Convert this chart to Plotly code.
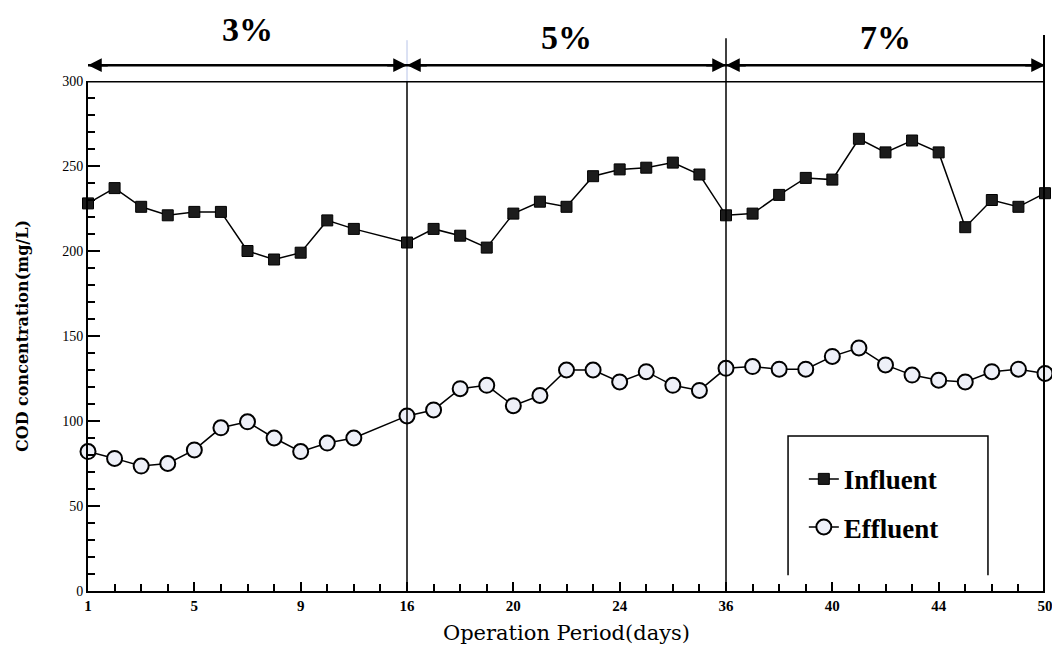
import plotly.graph_objects as go

# Sample positions along the operation period (evenly spaced on the axis)
sample_index = list(range(37))

# COD concentration (mg/L); sample 11 was not measured
influent = [228, 237, 226, 221, 223, 223, 200, 195, 199, 218, 213, None, 205,
            213, 209, 202, 222, 229, 226, 244, 248, 249, 252, 245, 221,
            222, 233, 243, 242, 266, 258, 265, 258, 214, 230, 226, 234]
effluent = [82, 78, 73.5, 75, 83, 96, 99.5, 90, 82, 87, 90, None, 103,
            106.5, 119, 121, 109, 115, 130, 130, 123, 129, 121, 118, 131,
            132, 130.5, 130.5, 138, 143, 133, 127, 124, 123, 129, 130.5, 128]

# Axis tick labels (operation day) at every fourth sample
tick_pos = [0, 4, 8, 12, 16, 20, 24, 28, 32, 36]
tick_text = ["1", "5", "9", "16", "20", "24", "36", "40", "44", "50"]

# Loading phases and their boundaries on the sample axis
phase_labels = ["3%", "5%", "7%"]
phase_bounds = [0, 12, 24, 36]

SERIF = "Liberation Serif"
WIDE_SERIF = "DejaVu Serif"

fig = go.Figure()
fig.add_trace(go.Scatter(
    x=sample_index, y=influent, name="Influent", mode="lines+markers",
    connectgaps=True, cliponaxis=False, legendgroup="inf",
    line=dict(color="black", width=1.5),
    marker=dict(symbol="square", size=11, color="#1c1c1c",
                line=dict(color="black", width=1)),
))
fig.add_trace(go.Scatter(
    x=sample_index, y=effluent, name="Effluent", mode="lines+markers",
    connectgaps=True, cliponaxis=False, legendgroup="eff",
    line=dict(color="black", width=1.5),
    marker=dict(symbol="circle", size=15, color="#eef0f8",
                line=dict(color="black", width=2)),
))

shapes = []
# top frame line at 300 mg/L
shapes.append(dict(type="line", xref="x", yref="y", x0=0, x1=36, y0=300, y1=300,
                   line=dict(color="black", width=3)))
# phase separators
shapes.append(dict(type="line", xref="x", yref="y", x0=12, x1=12, y0=0, y1=300,
                   line=dict(color="black", width=1.5)))
shapes.append(dict(type="line", xref="x", yref="paper", x0=12, x1=12, y0=1, y1=1.08,
                   line=dict(color="#b8c4e8", width=1)))
shapes.append(dict(type="line", xref="x", yref="paper", x0=24, x1=24, y0=0, y1=1.084,
                   line=dict(color="black", width=1.5)))
shapes.append(dict(type="line", xref="x", yref="paper", x0=36, x1=36, y0=0, y1=1.09,
                   line=dict(color="black", width=4)))
# legend frame (open at the bottom)
lx0, lx1, ly0, ly1 = 0.7315, 0.9404, 0.031, 0.304
shapes.append(dict(type="path", xref="paper", yref="paper",
                   path=f"M {lx0} {ly0} L {lx0} {ly1} L {lx1} {ly1} L {lx1} {ly0}",
                   line=dict(color="black", width=1.5)))

annotations = []
arrow_y = 1.031  # just above the 300 mg/L frame line
for i, lab in enumerate(phase_labels):
    a, b = phase_bounds[i], phase_bounds[i + 1]
    # span line of the phase
    shapes.append(dict(type="line", xref="x", yref="paper", x0=a, x1=b,
                       y0=arrow_y, y1=arrow_y, line=dict(color="black", width=2.5)))
    # arrowheads at both ends
    for tip, tail in ((a, a + 0.8), (b, b - 0.8)):
        annotations.append(dict(
            x=tip, y=arrow_y, ax=tail, ay=0, xref="x", yref="paper",
            axref="x", ayref="pixel", text="", showarrow=True,
            arrowhead=2, arrowsize=1.1, arrowwidth=2.5, arrowcolor="black",
        ))
    annotations.append(dict(
        x=(a + b) / 2, y=1.10 if i == 0 else 1.086, xref="x", yref="paper",
        text=lab, showarrow=False, yanchor="middle",
        font=dict(family=SERIF, size=34, color="black", weight="bold"),
    ))

fig.update_layout(
    width=1052, height=661,
    margin=dict(l=88, r=7, t=81, b=70),
    paper_bgcolor="white", plot_bgcolor="white",
    showlegend=True,
    legend=dict(x=0.748, y=0.267, xanchor="left", yanchor="top",
                bgcolor="rgba(0,0,0,0)", borderwidth=0,
                tracegroupgap=10,
                font=dict(family=SERIF, size=27, color="black", weight="bold")),
    shapes=shapes,
    annotations=annotations,
    xaxis=dict(
        range=[0, 36], showgrid=False, zeroline=False, automargin=False,
        showline=True, linecolor="black", linewidth=2,
        tickmode="array", tickvals=tick_pos, ticktext=tick_text,
        ticklabeloverflow="allow",
        ticks="inside", ticklen=9, tickwidth=2, tickcolor="black",
        minor=dict(dtick=1, tick0=0, ticks="inside", ticklen=7,
                   tickwidth=1.5, tickcolor="black"),
        tickfont=dict(family=SERIF, size=15, color="black", weight="bold"),
        title=dict(text="Operation Period(days)", standoff=12,
                   font=dict(family=WIDE_SERIF, size=21, color="black")),
    ),
    yaxis=dict(
        range=[0, 300], showgrid=False, zeroline=False, automargin=False,
        showline=True, linecolor="black", linewidth=2,
        tickvals=[0, 50, 100, 150, 200, 250, 300],
        ticks="inside", ticklen=12, tickwidth=2, tickcolor="black",
        minor=dict(dtick=10, tick0=0, ticks="inside", ticklen=7,
                   tickwidth=1.5, tickcolor="black"),
        tickfont=dict(family=SERIF, size=14, color="black"),
        title=dict(text="COD concentration(mg/L)", standoff=30,
                   font=dict(family=WIDE_SERIF, size=16, color="black", weight="bold")),
    ),
)

fig.write_html("out.html")
